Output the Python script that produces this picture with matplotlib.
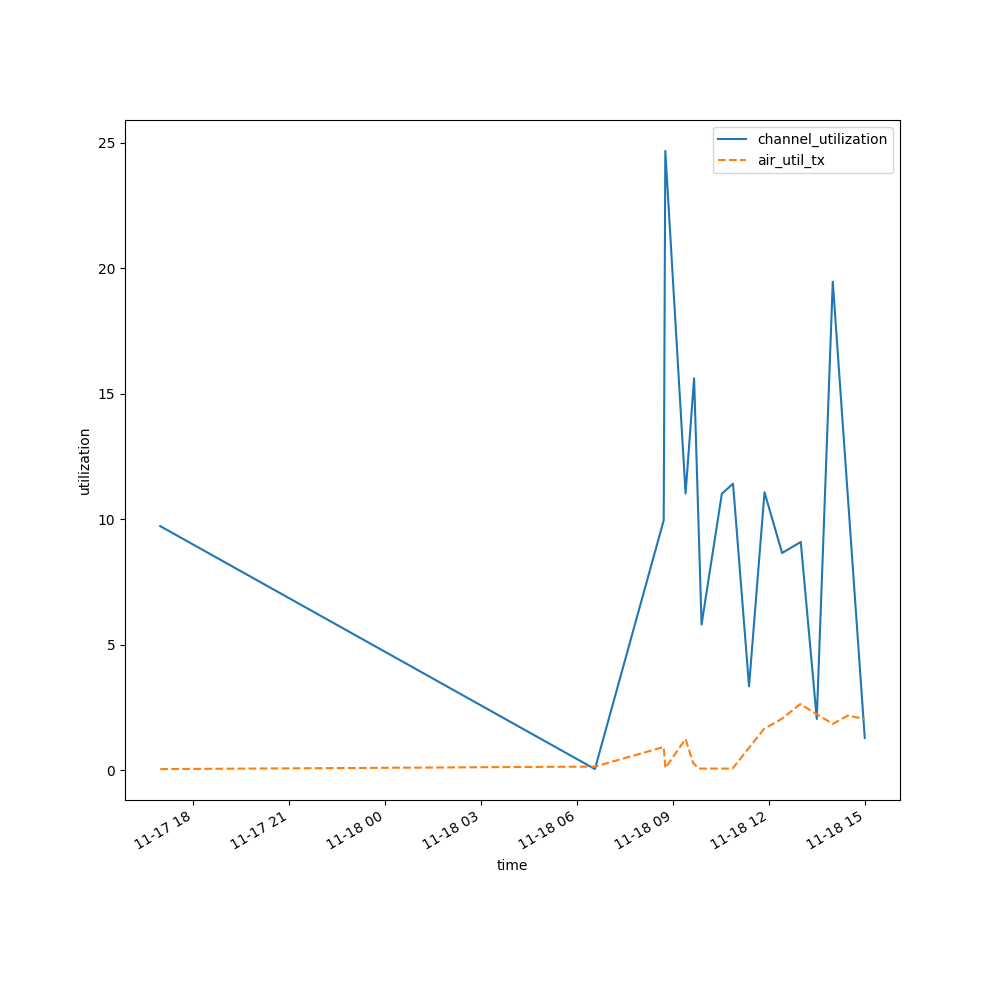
import matplotlib
matplotlib.use("Agg")
import matplotlib.pyplot as plt
import pandas as pd

# channel_utilization series
cu_times = [
    "2023-11-17 16:58", "2023-11-18 06:33", "2023-11-18 08:42", "2023-11-18 08:45",
    "2023-11-18 09:23", "2023-11-18 09:39", "2023-11-18 09:53", "2023-11-18 10:31",
    "2023-11-18 10:52", "2023-11-18 11:22", "2023-11-18 11:51", "2023-11-18 12:24",
    "2023-11-18 12:59", "2023-11-18 13:29", "2023-11-18 13:59", "2023-11-18 14:59",
]
cu_values = [9.73, 0.05, 9.96, 24.68, 11.03, 15.62, 5.81, 11.02,
             11.42, 3.35, 11.08, 8.66, 9.10, 2.05, 19.47, 1.29]

# air_util_tx series
at_times = [
    "2023-11-17 16:58", "2023-11-18 06:33", "2023-11-18 08:42", "2023-11-18 08:45",
    "2023-11-18 09:23", "2023-11-18 09:37", "2023-11-18 09:48", "2023-11-18 10:51",
    "2023-11-18 11:50", "2023-11-18 12:24", "2023-11-18 12:58", "2023-11-18 13:59",
    "2023-11-18 14:27", "2023-11-18 14:59",
]
at_values = [0.05, 0.15, 0.93, 0.09, 1.25, 0.30, 0.07, 0.07,
             1.65, 2.06, 2.64, 1.85, 2.18, 2.05]

cu_t = pd.to_datetime(cu_times)
at_t = pd.to_datetime(at_times)

fig, ax = plt.subplots(figsize=(10, 10), dpi=100)
ax.plot(cu_t, cu_values, color="#1f77b4", linestyle="-", label="channel_utilization")
ax.plot(at_t, at_values, color="#ff7f0e", linestyle="--", label="air_util_tx")
ax.set_xlabel("time")
ax.set_ylabel("utilization")
ax.legend(loc="upper right")
fig.autofmt_xdate()
fig.savefig("out.png")
